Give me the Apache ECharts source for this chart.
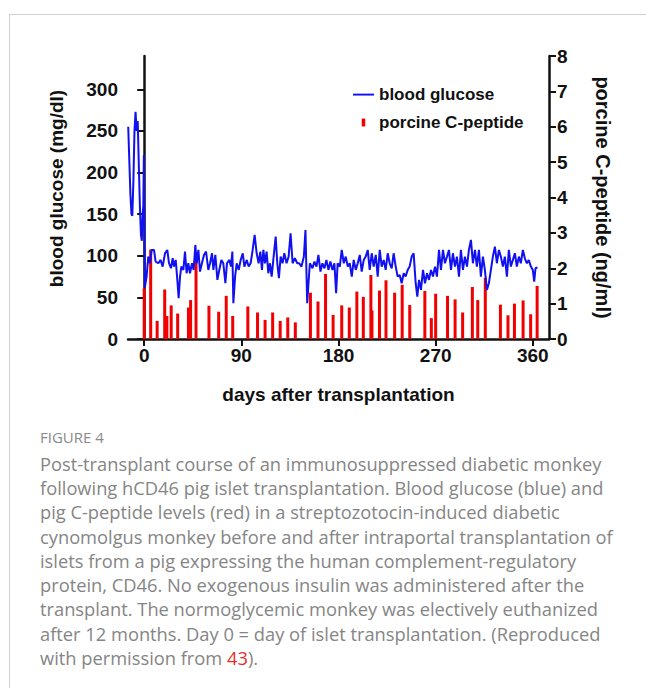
<!DOCTYPE html>
<html>
<head>
<meta charset="utf-8">
<script src="https://cdn.jsdelivr.net/npm/echarts@6/dist/echarts.min.js"></script>
<style>
  html, body { margin: 0; padding: 0; background: #fff; }
  #chart { width: 646px; height: 688px; }
</style>
</head>
<body>
<div id="chart"></div>
<script>
// blood glucose (mg/dl)
var glucoseDay = [
  -14.8, -13.8, -12.8, -11.8, -11.0, -10.0, -9.0, -8.0, -7.0, -6.0, -5.0, -4.0, -3.0, -2.2, -1.4, -0.8, -0.3, 0.6,
  2.2, 3.8, 5.3, 6.9, 9.1, 10.6, 13.1, 15.2, 17.1, 19.3, 21.4, 23.0, 24.8, 26.4, 27.6, 29.2, 30.7, 31.9, 33.2, 34.4,
  36.3, 37.8, 39.3, 40.9, 42.4, 44.3, 45.8, 47.4, 48.6, 50.2, 51.7, 53.5, 55.4, 57.3, 59.4, 61.0, 62.8, 64.1, 65.9,
  67.8, 69.6, 71.5, 73.3, 75.2, 76.7, 78.9, 80.4, 81.7, 82.6, 84.2, 85.7, 87.6, 89.4, 91.3, 92.8, 95.0, 96.8, 98.6,
  100.5, 102.3, 104.2, 106.0, 107.6, 109.1, 110.4, 111.9, 113.4, 115.0, 116.5, 118.1, 119.9, 121.8, 123.3, 124.8,
  126.4, 128.2, 129.8, 131.9, 133.8, 135.6, 137.5, 139.6, 141.8, 143.6, 145.7, 147.9, 149.4, 151.0, 152.2, 153.5,
  155.9, 157.7, 159.6, 161.4, 163.3, 165.1, 167.0, 168.8, 170.7, 172.5, 174.4, 176.2, 177.8, 179.2, 181.2, 183.0,
  184.9, 186.7, 188.6, 190.4, 192.3, 194.1, 196.0, 197.8, 199.7, 201.5, 203.4, 205.2, 207.1, 208.9, 210.8, 212.6,
  214.5, 216.3, 218.2, 220.0, 221.9, 223.7, 225.6, 227.4, 229.3, 231.1, 233.0, 234.8, 236.7, 238.5, 240.4, 242.2,
  244.1, 245.9, 247.8, 249.6, 251.5, 253.0, 254.6, 256.4, 258.3, 260.1, 262.0, 263.8, 265.7, 267.5, 269.4, 271.2,
  273.1, 274.9, 276.8, 278.6, 280.5, 282.3, 284.2, 286.0, 287.9, 289.7, 291.6, 293.4, 295.3, 297.1, 299.0, 300.8,
  302.7, 304.5, 306.4, 308.2, 310.1, 311.9, 313.8, 315.6, 317.5, 319.3, 321.2, 323.0, 324.9, 326.7, 328.6, 330.4,
  332.3, 334.1, 336.0, 337.8, 339.7, 341.5, 343.4, 345.2, 347.1, 348.9, 350.8, 352.6, 354.5, 356.3, 358.2, 360.0,
  361.3, 362.5, 364.3
];
var glucoseLevel = [
  255, 215, 175, 150, 148, 190, 250, 273, 250, 262, 210, 160, 125, 118, 150, 160, 221, 62,
  75, 99, 91, 107, 107, 93, 91, 95, 87, 103, 107, 91, 85, 97, 87, 95, 71, 49, 75, 87,
  83, 105, 79, 91, 79, 91, 83, 113, 91, 107, 81, 91, 101, 105, 83, 91, 103, 83, 101,
  71, 83, 95, 91, 67, 91, 95, 87, 105, 43, 75, 91, 83, 95, 103, 87, 95, 87, 91,
  107, 125, 103, 91, 105, 83, 107, 91, 105, 79, 91, 75, 99, 123, 91, 73,
  99, 91, 103, 91, 99, 127, 91, 97, 91, 91, 87, 99, 131, 43, 67, 91,
  85, 93, 87, 101, 81, 91, 85, 95, 83, 93, 83, 91, 55, 91, 87, 107,
  91, 99, 87, 91, 75, 95, 83, 91, 101, 81, 95, 99, 107, 83, 103, 87,
  101, 75, 107, 87, 95, 83, 103, 91, 85, 103, 87, 75, 77, 67, 79, 75,
  83, 87, 99, 103, 67, 51, 71, 59, 83, 67, 79, 71, 83, 75, 87, 75,
  107, 83, 107, 91, 99, 107, 83, 103, 87, 99, 75, 107, 83, 99, 87, 107,
  119, 91, 107, 87, 107, 75, 99, 83, 59, 67, 83, 99, 111, 91, 107, 99,
  87, 99, 75, 107, 87, 95, 103, 87, 99, 91, 107, 97, 91, 95, 87, 83,
  69, 85, 86
];

// porcine C-peptide (ng/ml), one red bar per sample
var peptideDay = [
  0, 6, 12, 19, 21, 25, 31, 41, 43, 48, 60, 69, 76, 82, 96, 105, 112, 119, 126, 133, 140,
  154, 161, 168, 175, 183, 190, 197, 203, 210, 211, 218, 224, 232, 239, 246,
  260, 266, 270, 281, 288, 295, 304, 309, 316, 330, 337, 343, 351, 358, 364
];
var peptideLevel = [
  1.43, 2.53, 0.51, 1.40, 0.65, 0.95, 0.72, 0.89, 1.10, 2.29, 0.94, 0.77, 1.22, 0.65, 0.92, 0.75, 0.54, 0.75, 0.51, 0.61, 0.47,
  1.31, 1.06, 1.84, 0.68, 0.95, 0.89, 1.34, 1.19, 1.81, 0.81, 1.37, 1.66, 1.31, 1.53, 0.96,
  1.36, 0.59, 1.28, 1.22, 1.12, 0.75, 1.47, 1.10, 1.73, 0.97, 0.67, 1.00, 1.09, 0.70, 1.50
];

var dayTicks = [0, 90, 180, 270, 360];
var glucoseTicks = [0, 50, 100, 150, 200, 250, 300];

var captionLines = [
  'Post-transplant course of an immunosuppressed diabetic monkey',
  'following hCD46 pig islet transplantation. Blood glucose (blue) and',
  'pig C-peptide levels (red) in a streptozotocin-induced diabetic',
  'cynomolgus monkey before and after intraportal transplantation of',
  'islets from a pig expressing the human complement-regulatory',
  'protein, CD46. No exogenous insulin was administered after the',
  'transplant. The normoglycemic monkey was electively euthanized',
  'after 12 months. Day 0 = day of islet transplantation. (Reproduced',
  'with permission from {r|43}).'
];

var font = 'Liberation Sans, Arial, sans-serif';
var ink = '#111';
var blue = '#1010f0';

var glucoseData = glucoseDay.map(function (d, i) { return [d, glucoseLevel[i]]; });
var peptideData = peptideDay.map(function (d, i) { return [d, peptideLevel[i]]; });

var myChart = echarts.init(document.getElementById('chart'), null, { renderer: 'svg' });
myChart.setOption({
  backgroundColor: '#fff',
  animation: false,
  grid: { left: 128, right: 97, top: 56, bottom: 349 },
  legend: {
    left: 353,
    top: 86,
    padding: 0,
    orient: 'vertical',
    itemWidth: 21,
    itemHeight: 10,
    itemGap: 11,
    textStyle: { fontFamily: font, fontWeight: 'bold', fontSize: 17, color: ink },
    data: [
      { name: 'blood glucose', icon: 'path://M0,0M24,10M0,4h24v2.2h-24z' },
      { name: 'porcine C-peptide', icon: 'path://M0,0M24,9M10,0h4v9h-4z' }
    ]
  },
  xAxis: {
    type: 'value',
    min: -15,
    max: 375,
    name: 'days after transplantation',
    nameLocation: 'middle',
    nameGap: 46,
    nameTextStyle: { fontFamily: font, fontWeight: 'bold', fontSize: 19, color: ink },
    axisLine: { onZero: false, lineStyle: { color: ink, width: 2.5 } },
    axisTick: { length: 7, customValues: dayTicks, lineStyle: { color: ink, width: 2 } },
    axisLabel: { customValues: dayTicks, margin: 7, fontFamily: font, fontWeight: 'bold', fontSize: 19, color: ink },
    splitLine: { show: false }
  },
  yAxis: [
    {
      type: 'value',
      min: 0,
      max: 340,
      name: 'blood glucose (mg/dl)',
      nameLocation: 'middle',
      nameGap: 62,
      nameTextStyle: { fontFamily: font, fontWeight: 'bold', fontSize: 19, color: ink, padding: [0, 0, 0, 18] },
      axisLine: { show: true, lineStyle: { color: ink, width: 2.5 } },
      axisTick: { show: true, length: 7, customValues: glucoseTicks, lineStyle: { color: ink, width: 2 } },
      axisLabel: { customValues: glucoseTicks, margin: 10, fontFamily: font, fontWeight: 'bold', fontSize: 19, color: ink },
      splitLine: { show: false }
    },
    {
      type: 'value',
      min: 0,
      max: 8,
      interval: 1,
      position: 'right',
      name: 'porcine C-peptide (ng/ml)',
      nameLocation: 'middle',
      nameRotate: -90,
      nameGap: 44,
      nameTextStyle: { fontFamily: font, fontWeight: 'bold', fontSize: 20, color: ink },
      axisLine: { show: true, lineStyle: { color: ink, width: 2.5 } },
      axisTick: { show: true, length: 7, lineStyle: { color: ink, width: 2 } },
      axisLabel: { margin: 8, fontFamily: font, fontWeight: 'bold', fontSize: 19, color: ink },
      splitLine: { show: false }
    }
  ],
  series: [
    {
      name: 'porcine C-peptide',
      type: 'bar',
      yAxisIndex: 1,
      barWidth: 3,
      itemStyle: { color: '#f20000' },
      data: peptideData
    },
    {
      name: 'blood glucose',
      type: 'line',
      yAxisIndex: 0,
      symbol: 'none',
      lineStyle: { color: blue, width: 2 },
      itemStyle: { color: blue },
      data: glucoseData
    }
  ],
  graphic: [
    // figure frame: top and left border only
    { type: 'line', shape: { x1: 9, y1: 14.5, x2: 646, y2: 14.5 }, style: { stroke: '#cfcfcf', lineWidth: 1 } },
    { type: 'line', shape: { x1: 9.5, y1: 14, x2: 9.5, y2: 688 }, style: { stroke: '#cfcfcf', lineWidth: 1 } },
    {
      type: 'text', left: 40, top: 429,
      style: { text: 'FIGURE 4', fontFamily: 'Open Sans, sans-serif', fontSize: 15, fill: '#8a8a8a' }
    },
    {
      type: 'text', left: 40, top: 451,
      style: {
        text: captionLines.join('\n'),
        fontFamily: 'Open Sans, sans-serif',
        fontSize: 18.3,
        lineHeight: 24.3,
        fill: '#858585',
        rich: { r: { fill: '#e0322c', fontFamily: 'Open Sans, sans-serif', fontSize: 18.3, lineHeight: 24.3 } }
      }
    }
  ]
});
</script>
</body>
</html>
